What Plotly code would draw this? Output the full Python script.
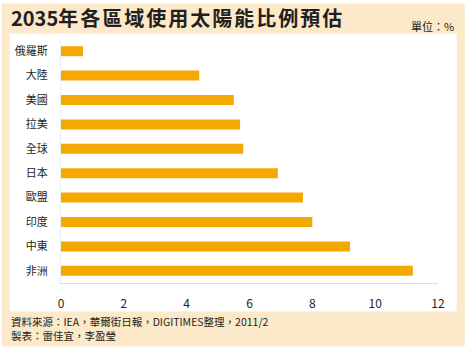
import plotly.graph_objects as go

regions = ["俄羅斯", "大陸", "美國", "拉美", "全球", "日本", "歐盟", "印度", "中東", "非洲"]
shares = [0.7, 4.4, 5.5, 5.7, 5.8, 6.9, 7.7, 8.0, 9.2, 11.2]
x_ticks = [0, 2, 4, 6, 8, 10, 12]

title_year = "2035"
title_rest = "年各區域使用太陽能比例預估"
unit_text = "單位：%"
source_text = "資料來源：IEA，華爾街日報，DIGITIMES整理，2011/2"
maker_text = "製表：雷佳宜，李盈瑩"

FONT = "Noto Sans CJK TC, Noto Sans, sans-serif"
TXT = "#231f20"
BEIGE = "#fce9c9"
BAR = "#f5a800"

W, H = 473, 356
ml, mr, mt, mb = 61.3, 34.7, 38.5, 72.7
pw, ph = W - ml - mr, H - mt - mb

def px(x):
    return (x - ml) / pw

def py(y):
    return 1 - (y - mt) / ph

fig = go.Figure(go.Bar(
    x=shares, y=regions, orientation="h",
    marker=dict(color=BAR, line=dict(width=0)),
    hoverinfo="x+y",
))

fig.update_layout(
    width=W, height=H,
    margin=dict(l=ml, r=mr, t=mt, b=mb, autoexpand=False),
    paper_bgcolor="white", plot_bgcolor="rgba(0,0,0,0)",
    bargap=0.59, showlegend=False,
    font=dict(family=FONT, color=TXT),
    xaxis=dict(range=[0, 12], tickvals=x_ticks, showgrid=False, zeroline=False,
               showline=True, linecolor="#d3e2f0", linewidth=1, automargin=False,
               ticks="outside", ticklen=10, tickcolor="rgba(0,0,0,0)",
               tickfont=dict(size=12, color=TXT, family=FONT)),
    yaxis=dict(autorange="reversed", showgrid=False, zeroline=False,
               showline=True, linecolor="#e6eef6", linewidth=1, automargin=False,
               ticks="outside", ticklen=10, tickcolor="rgba(0,0,0,0)",
               tickfont=dict(size=11, color=TXT, family=FONT)),
    shapes=[
        dict(type="rect", xref="paper", yref="paper", layer="below",
             x0=px(2), x1=px(465), y0=py(347), y1=py(3),
             fillcolor=BEIGE, line=dict(width=0)),
        dict(type="rect", xref="paper", yref="paper", layer="below",
             x0=px(10), x1=px(457), y0=py(312), y1=py(33),
             fillcolor="white", line=dict(width=0)),
    ],
    annotations=[
        dict(xref="paper", yref="paper", x=px(9), y=py(17), xanchor="left", yanchor="middle",
             showarrow=False,
             text=title_year + '<span style="letter-spacing:2px">' + title_rest + '</span>',
             font=dict(size=20, color=TXT, family=FONT, weight="bold")),
        dict(xref="paper", yref="paper", x=px(456), y=py(25), xanchor="right", yanchor="middle",
             showarrow=False, text=unit_text, font=dict(size=11, color=TXT, family=FONT)),
        dict(xref="paper", yref="paper", x=px(9), y=py(321.5), xanchor="left", yanchor="middle",
             showarrow=False, text=source_text, font=dict(size=10.5, color=TXT, family=FONT)),
        dict(xref="paper", yref="paper", x=px(9), y=py(336), xanchor="left", yanchor="middle",
             showarrow=False, text=maker_text, font=dict(size=10.5, color=TXT, family=FONT)),
    ],
)

fig.write_html("out.html", config={"displayModeBar": False},
               post_script="document.body.style.margin='0';")
